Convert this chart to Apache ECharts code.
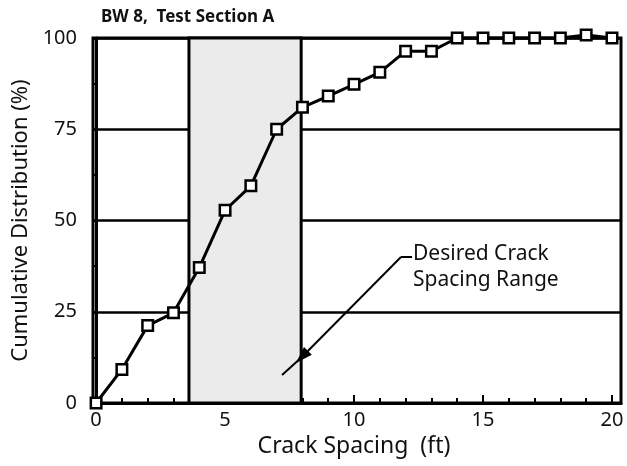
<!DOCTYPE html>
<html>
<head>
<meta charset="utf-8">
<script src="https://cdn.jsdelivr.net/npm/echarts@6/dist/echarts.min.js"></script>
<style>
html,body{margin:0;padding:0;background:#fff;}
#chart{width:627px;height:466px;}
</style>
</head>
<body>
<div id="chart"></div>
<script>
// ---- data ----
const spacingFt = [0,1,2,3,4,5,6,7,8,9,10,11,12,13,14,15,16,17,18,19,20];
const cumulativePct = [0,9.2,21.2,24.7,37.1,52.8,59.5,75,81,84.1,87.3,90.6,96.4,96.4,100,100,100,100,100,100.8,100];
const desiredRange = [3.6, 7.95];
const xTickLabels = ['0','5','10','15','20'];
const yTickLabels = ['0','25','50','75','100'];
const leaderPoints = [[12.25,40],[11.82,40],[7.98,12.6],[7.21,7.7]];

const FONT = 'Noto Sans';
const chart = echarts.init(document.getElementById('chart'), null, {renderer:'canvas'});

const option = {
  animation:false,
  backgroundColor:'#fff',
  title:{
    text:'BW 8,  Test Section A',
    left:96, top:4,
    textStyle:{fontFamily:FONT, fontSize:17, fontWeight:'bold', color:'#111'}
  },
  grid:[
    {left:93, right:6, top:38, bottom:63, show:true, borderColor:'#000', borderWidth:3, backgroundColor:'transparent'},
    {left:96, right:15, top:38, bottom:63, show:false}
  ],
  xAxis:[{
    gridIndex:0, type:'value', min:-0.12, max:20.35, position:'bottom',
    axisLine:{lineStyle:{color:'#000', width:3}},
    axisTick:{show:false}, axisLabel:{show:false}, splitLine:{show:false}
  },{
    gridIndex:1, type:'value', min:0, max:20, interval:1, position:'bottom',
    axisLine:{show:false},
    axisTick:{show:true, inside:true, length:5, lineStyle:{color:'#000', width:2}},
    axisLabel:{show:false}, splitLine:{show:false}
  },{
    gridIndex:1, type:'value', min:0, max:20, interval:5, position:'bottom',
    name:'Crack Spacing  (ft)', nameLocation:'middle', nameGap:27,
    nameTextStyle:{fontFamily:FONT, fontSize:23, color:'#111'},
    axisLine:{show:false},
    axisTick:{show:true, inside:true, length:8, lineStyle:{color:'#000', width:2}},
    axisLabel:{margin:7, fontFamily:FONT, fontSize:20, color:'#111',
      formatter:(v)=>xTickLabels[Math.round(v/5)]},
    splitLine:{show:false}
  }],
  yAxis:[{
    gridIndex:0, type:'value', min:0, max:100, interval:25, position:'left',
    name:'Cumulative Distribution (%)', nameLocation:'middle', nameGap:50,
    nameTextStyle:{fontFamily:FONT, fontSize:22, color:'#111'},
    axisLine:{show:true, lineStyle:{color:'#000', width:3}},
    axisTick:{show:false},
    axisLabel:{margin:16, fontFamily:FONT, fontSize:20, color:'#111',
      formatter:(v)=>yTickLabels[Math.round(v/25)]},
    splitLine:{show:true, lineStyle:{color:'#000', width:2.5}}
  },{
    gridIndex:0, type:'value', min:0, max:100, interval:12.5, position:'left', offset:0,
    axisLine:{show:false},
    axisTick:{show:true, inside:true, length:5, lineStyle:{color:'#000', width:2}},
    axisLabel:{show:false}, splitLine:{show:false}
  },{
    gridIndex:1, type:'value', min:0, max:100, show:false
  }],
  series:[{
    type:'line', name:'range', data:[], z:1, silent:true, xAxisIndex:0, yAxisIndex:0,
    markArea:{
      silent:true,
      itemStyle:{color:'#ebebeb', borderColor:'#000', borderWidth:3},
      data:[[{xAxis:desiredRange[0], yAxis:0},{xAxis:desiredRange[1], yAxis:100}]]
    }
  },{
    type:'line', name:'leader', data:[], z:4, silent:true, xAxisIndex:0, yAxisIndex:0,
    markLine:{
      silent:true, symbol:['none','none'], symbolSize:[11,17],
      label:{show:false},
      lineStyle:{color:'#000', width:2, type:'solid'},
      data:[
        [{coord:leaderPoints[0]},{coord:leaderPoints[1]}],
        [{coord:leaderPoints[1]},{coord:leaderPoints[2], symbol:'triangle'}],
        [{coord:leaderPoints[2]},{coord:leaderPoints[3]}]
      ]
    }
  },{
    type:'line', name:'cumulative', z:5, xAxisIndex:0, yAxisIndex:0, clip:false,
    data:spacingFt.map((x,i)=>[x,cumulativePct[i]]),
    symbol:'rect', symbolSize:10.5, showAllSymbol:true,
    lineStyle:{color:'#000', width:3},
    itemStyle:{color:'#fff', borderColor:'#000', borderWidth:2.5}
  }],
  graphic:[{
    type:'text', left:413, top:241,
    style:{text:'Desired Crack\nSpacing Range', font:'21px "Noto Sans"', fill:'#111', lineHeight:26}
  }]
};
chart.setOption(option);
</script>
</body>
</html>
